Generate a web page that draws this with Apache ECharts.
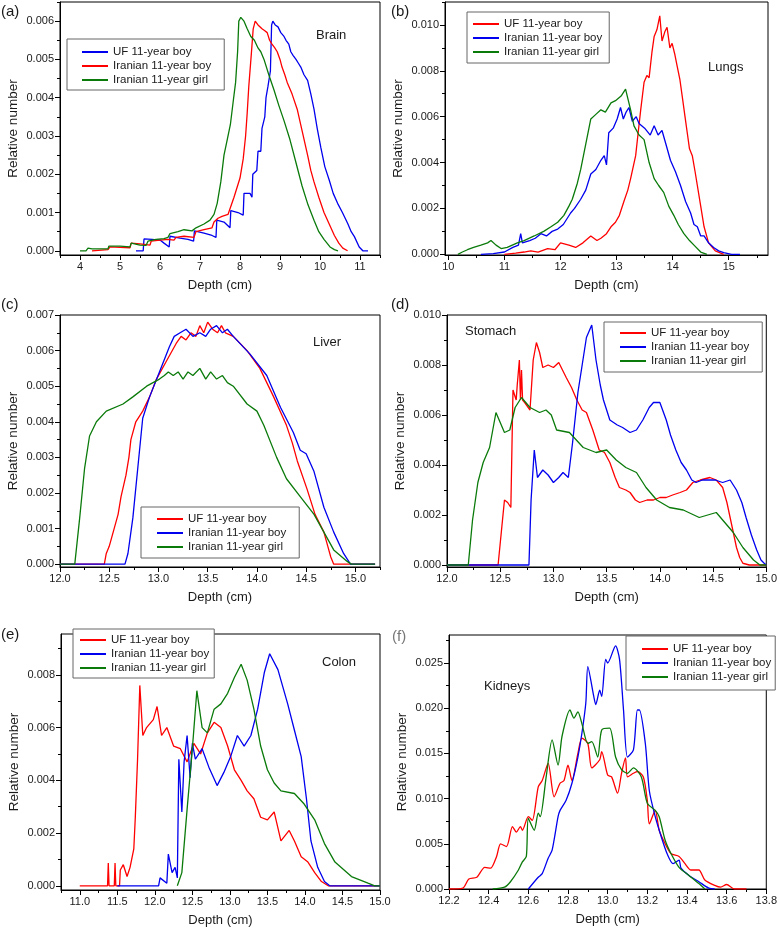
<!DOCTYPE html>
<html><head><meta charset="utf-8">
<script src="https://cdn.jsdelivr.net/npm/echarts/dist/echarts.min.js"></script>
<style>html,body{margin:0;padding:0;background:#fff}#c{width:780px;height:929px}</style>
</head><body><div id="c"></div><script>
const FONT = '"Liberation Sans", Arial, Helvetica, sans-serif';
const NAMES = ['UF 11-year boy', 'Iranian 11-year boy', 'Iranian 11-year girl'];

// ---------- (a) Brain ----------
const brainXTicks = [4, 5, 6, 7, 8, 9, 10, 11];
const brainYTicks = [0, 0.001, 0.002, 0.003, 0.004, 0.005, 0.006];
const brainUF = [[5.4,0],[5.58,0],[5.6,0.00031],[5.8,0.0003],[6.0,0.00028],[6.1,0.0002],[6.23,0.0001],[6.25,0.00038],[6.5,0.00033],[6.7,0.0003],[6.84,0.00025],[6.86,0.00052],[7.1,0.00046],[7.3,0.0004],[7.4,0.00035],[7.42,0.0008],[7.6,0.00075],[7.75,0.0006],[7.77,0.00105],[7.95,0.001],[8.08,0.00093],[8.1,0.0015],[8.25,0.0015],[8.3,0.0014],[8.32,0.002],[8.42,0.0021],[8.45,0.0026],[8.52,0.0026],[8.55,0.0032],[8.62,0.0035],[8.65,0.004],[8.7,0.0043],[8.76,0.0047],[8.79,0.0059],[8.82,0.006],[8.88,0.0059],[8.95,0.00585],[9.02,0.0057],[9.1,0.0056],[9.15,0.0055],[9.22,0.0054],[9.27,0.0052],[9.33,0.0051],[9.4,0.005],[9.46,0.0049],[9.52,0.0048],[9.6,0.0046],[9.69,0.00445],[9.77,0.0041],[9.85,0.0037],[9.93,0.0032],[10.02,0.0027],[10.12,0.0022],[10.23,0.00185],[10.33,0.0015],[10.44,0.00124],[10.56,0.001],[10.69,0.00072],[10.78,0.0005],[10.86,0.00037],[10.98,0.0001],[11.07,0],[11.2,0]];
const brainIrBoy = [[4.3,0],[4.35,0.00003],[4.7,0.00003],[4.75,0.0001],[5.0,0.00009],[5.25,0.00008],[5.28,0.0002],[5.5,0.00018],[5.75,0.00015],[5.78,0.00025],[6.0,0.00028],[6.2,0.0003],[6.35,0.00028],[6.4,0.00035],[6.6,0.00038],[6.85,0.00035],[6.9,0.0005],[7.1,0.00055],[7.3,0.0006],[7.35,0.00075],[7.45,0.00085],[7.55,0.0009],[7.7,0.00095],[7.85,0.0014],[8.0,0.0019],[8.08,0.0024],[8.14,0.003],[8.18,0.0036],[8.22,0.0043],[8.28,0.0051],[8.33,0.0058],[8.38,0.006],[8.45,0.0059],[8.5,0.00585],[8.55,0.0058],[8.62,0.00575],[8.68,0.0057],[8.74,0.0055],[8.8,0.0054],[8.87,0.0053],[8.93,0.0052],[9.0,0.005],[9.05,0.0048],[9.12,0.0046],[9.18,0.0044],[9.3,0.0041],[9.43,0.0037],[9.56,0.0031],[9.69,0.0025],[9.77,0.0021],[9.85,0.0018],[9.97,0.0014],[10.1,0.001],[10.23,0.0007],[10.36,0.0004],[10.47,0.0002],[10.57,0.00007],[10.69,0]];
const brainIrGirl = [[4.0,0],[4.15,0],[4.2,0.00007],[4.3,0.00005],[4.7,0.00005],[4.72,0.00012],[5.0,0.00012],[5.25,0.0001],[5.28,0.0002],[5.5,0.00015],[5.65,0.00014],[5.7,0.00025],[5.9,0.0003],[6.1,0.00032],[6.2,0.00035],[6.25,0.00045],[6.45,0.0005],[6.6,0.00055],[6.8,0.00052],[6.9,0.0006],[7.1,0.0007],[7.25,0.0008],[7.35,0.00095],[7.43,0.00124],[7.52,0.0018],[7.6,0.0025],[7.68,0.0029],[7.76,0.0033],[7.83,0.0039],[7.89,0.0044],[7.94,0.0052],[7.97,0.006],[8.02,0.0061],[8.1,0.006],[8.18,0.0058],[8.27,0.0056],[8.36,0.0055],[8.45,0.0053],[8.52,0.0052],[8.6,0.005],[8.72,0.0046],[8.85,0.0042],[8.97,0.0038],[9.1,0.0034],[9.25,0.0029],[9.4,0.0023],[9.55,0.0017],[9.7,0.0012],[9.85,0.0008],[9.97,0.0005],[10.1,0.0003],[10.25,0.0001],[10.36,0.00003],[10.45,0]];

// ---------- (b) Lungs ----------
const lungsXTicks = [10, 11, 12, 13, 14, 15];
const lungsYTicks = [0, 0.002, 0.004, 0.006, 0.008, 0.010];
const lungsUF = [[11.0,0],[11.2,0.00005],[11.35,0.0001],[11.47,0.00015],[11.6,0.0001],[11.77,0.00025],[11.9,0.0002],[12.0,0.0005],[12.15,0.0004],[12.27,0.0003],[12.4,0.0005],[12.54,0.0008],[12.65,0.0006],[12.72,0.0007],[12.82,0.0009],[12.9,0.0012],[12.98,0.0014],[13.05,0.0017],[13.13,0.0023],[13.2,0.0028],[13.25,0.0033],[13.34,0.0043],[13.38,0.0052],[13.43,0.0063],[13.49,0.0075],[13.54,0.0078],[13.58,0.0077],[13.63,0.0088],[13.67,0.0095],[13.72,0.0098],[13.77,0.0104],[13.81,0.0093],[13.86,0.0097],[13.9,0.0099],[13.95,0.009],[13.99,0.0092],[14.04,0.0087],[14.08,0.0082],[14.13,0.0076],[14.17,0.0069],[14.22,0.006],[14.26,0.0053],[14.3,0.0046],[14.35,0.0043],[14.4,0.0036],[14.44,0.003],[14.5,0.0021],[14.56,0.0012],[14.64,0.0005],[14.76,0.00015],[14.91,0]];
const lungsIrBoy = [[10.58,0],[10.8,0.00003],[11.0,0.0001],[11.15,0.0003],[11.25,0.0004],[11.29,0.0009],[11.32,0.0005],[11.45,0.0006],[11.55,0.0007],[11.65,0.0009],[11.75,0.0008],[11.85,0.001],[11.95,0.0011],[12.05,0.0013],[12.18,0.0018],[12.25,0.002],[12.36,0.0024],[12.45,0.0028],[12.54,0.0035],[12.63,0.0037],[12.72,0.0041],[12.78,0.0043],[12.82,0.0039],[12.86,0.0053],[12.94,0.0055],[13.01,0.0059],[13.07,0.0064],[13.12,0.0059],[13.17,0.0062],[13.22,0.0064],[13.28,0.0058],[13.35,0.006],[13.4,0.0057],[13.5,0.0055],[13.6,0.0052],[13.67,0.0056],[13.74,0.0052],[13.81,0.0054],[13.88,0.0048],[13.96,0.0041],[14.05,0.0036],[14.14,0.003],[14.23,0.0023],[14.32,0.0018],[14.38,0.0013],[14.44,0.0012],[14.5,0.0008],[14.56,0.0008],[14.64,0.0005],[14.73,0.0003],[14.82,0.00015],[14.91,0.00007],[15.05,0],[15.2,0]];
const lungsIrGirl = [[10.17,0],[10.25,0.0001],[10.34,0.0002],[10.45,0.0003],[10.58,0.0004],[10.7,0.0005],[10.76,0.0006],[10.85,0.0004],[10.94,0.00025],[11.05,0.0003],[11.23,0.0005],[11.35,0.0006],[11.53,0.0008],[11.7,0.001],[11.83,0.0012],[11.95,0.0014],[12.06,0.0017],[12.15,0.0021],[12.21,0.0024],[12.3,0.0031],[12.36,0.0037],[12.45,0.0048],[12.54,0.0059],[12.63,0.0061],[12.72,0.0063],[12.8,0.0062],[12.9,0.0066],[12.98,0.0067],[13.08,0.0069],[13.16,0.0072],[13.2,0.0068],[13.25,0.0063],[13.31,0.0056],[13.4,0.0052],[13.49,0.005],[13.58,0.004],[13.67,0.0033],[13.75,0.003],[13.84,0.0027],[13.93,0.0021],[14.02,0.0017],[14.1,0.0013],[14.2,0.0009],[14.3,0.0006],[14.38,0.0004],[14.5,0.0001],[14.61,0]];

// ---------- (c) Liver ----------
const liverXTicks = [12.0, 12.5, 13.0, 13.5, 14.0, 14.5, 15.0];
const liverYTicks = [0, 0.001, 0.002, 0.003, 0.004, 0.005, 0.006, 0.007];
const liverUF = [[12.0,0],[12.45,0],[12.47,0.0003],[12.5,0.0005],[12.55,0.001],[12.59,0.0014],[12.62,0.0019],[12.67,0.0025],[12.7,0.003],[12.72,0.0035],[12.77,0.004],[12.84,0.0043],[12.91,0.0047],[12.98,0.0052],[13.08,0.0057],[13.18,0.0062],[13.23,0.0064],[13.28,0.0063],[13.33,0.0065],[13.38,0.0064],[13.42,0.0067],[13.46,0.0065],[13.5,0.0068],[13.55,0.0066],[13.6,0.0065],[13.64,0.0067],[13.68,0.0065],[13.76,0.0064],[13.9,0.006],[14.03,0.0055],[14.17,0.0047],[14.3,0.0039],[14.36,0.0034],[14.41,0.0029],[14.51,0.0021],[14.59,0.0014],[14.68,0.0009],[14.72,0.0005],[14.75,0.0002],[14.78,0],[15.2,0]];
const liverIrBoy = [[12.0,0],[12.66,0],[12.69,0.0003],[12.74,0.0013],[12.79,0.0027],[12.84,0.0041],[12.91,0.0047],[13.01,0.0054],[13.11,0.0061],[13.16,0.0064],[13.22,0.0065],[13.28,0.0066],[13.35,0.0064],[13.42,0.0065],[13.48,0.0064],[13.53,0.0066],[13.59,0.0067],[13.65,0.0065],[13.7,0.0066],[13.76,0.0064],[13.93,0.0059],[14.1,0.0053],[14.24,0.0044],[14.37,0.0037],[14.44,0.0032],[14.5,0.0031],[14.58,0.0026],[14.68,0.0016],[14.78,0.0009],[14.88,0.0003],[14.95,0],[15.2,0]];
const liverIrGirl = [[12.0,0],[12.15,0],[12.2,0.0013],[12.25,0.0027],[12.3,0.0036],[12.37,0.004],[12.47,0.0043],[12.64,0.0045],[12.74,0.0047],[12.88,0.005],[13.01,0.0052],[13.06,0.0053],[13.1,0.0054],[13.15,0.0053],[13.2,0.0054],[13.25,0.0052],[13.3,0.0054],[13.35,0.0053],[13.42,0.0055],[13.48,0.0052],[13.53,0.0054],[13.59,0.0052],[13.65,0.0053],[13.7,0.0051],[13.76,0.005],[13.9,0.0045],[14.0,0.0043],[14.07,0.0039],[14.2,0.003],[14.3,0.0024],[14.44,0.0019],[14.58,0.0014],[14.68,0.0009],[14.78,0.0004],[14.92,0.00007],[14.96,0],[15.2,0]];

// ---------- (d) Stomach ----------
const stomachXTicks = [12.0, 12.5, 13.0, 13.5, 14.0, 14.5, 15.0];
const stomachYTicks = [0, 0.002, 0.004, 0.006, 0.008, 0.010];
const stomachUF = [[12.0,0],[12.48,0],[12.51,0.0013],[12.54,0.0026],[12.57,0.0025],[12.6,0.0023],[12.62,0.007],[12.65,0.0066],[12.66,0.0072],[12.68,0.0082],[12.69,0.0066],[12.7,0.0078],[12.71,0.0066],[12.73,0.0065],[12.78,0.0062],[12.79,0.0062],[12.81,0.0082],[12.84,0.0089],[12.87,0.0085],[12.9,0.0079],[12.95,0.008],[13.0,0.0079],[13.05,0.0081],[13.12,0.0075],[13.17,0.0071],[13.22,0.0066],[13.27,0.0062],[13.31,0.0061],[13.37,0.0054],[13.43,0.0046],[13.48,0.0045],[13.53,0.0041],[13.58,0.0035],[13.62,0.0031],[13.68,0.003],[13.72,0.0029],[13.77,0.0026],[13.81,0.0025],[13.88,0.0026],[13.94,0.0026],[14.0,0.0027],[14.06,0.0027],[14.12,0.0028],[14.19,0.0029],[14.25,0.003],[14.31,0.0033],[14.38,0.0034],[14.47,0.0035],[14.53,0.0034],[14.59,0.0031],[14.63,0.0025],[14.66,0.0019],[14.69,0.0013],[14.72,0.0007],[14.75,0.0003],[14.78,0.00007],[14.84,0],[15.0,0]];
const stomachIrBoy = [[12.0,0],[12.77,0],[12.79,0.0026],[12.82,0.0046],[12.85,0.0035],[12.9,0.0038],[12.95,0.0036],[13.0,0.0033],[13.05,0.0035],[13.09,0.0037],[13.14,0.0035],[13.18,0.0049],[13.23,0.0069],[13.27,0.008],[13.31,0.0091],[13.36,0.0096],[13.4,0.0082],[13.44,0.0072],[13.47,0.0066],[13.53,0.0058],[13.6,0.0056],[13.65,0.0055],[13.72,0.0053],[13.78,0.0054],[13.84,0.0058],[13.9,0.0063],[13.94,0.0065],[14.0,0.0065],[14.06,0.0058],[14.1,0.0052],[14.15,0.0046],[14.2,0.0041],[14.25,0.0038],[14.3,0.0034],[14.34,0.0033],[14.4,0.0034],[14.44,0.0034],[14.52,0.0034],[14.59,0.0033],[14.66,0.0034],[14.72,0.003],[14.77,0.0025],[14.81,0.0019],[14.86,0.0012],[14.91,0.0006],[14.95,0.0002],[14.98,0.00007],[15.0,0]];
const stomachIrGirl = [[12.0,0],[12.2,0],[12.24,0.0018],[12.29,0.0033],[12.34,0.0041],[12.4,0.0047],[12.46,0.0061],[12.49,0.0058],[12.54,0.0053],[12.59,0.0054],[12.64,0.0063],[12.7,0.0067],[12.78,0.0063],[12.87,0.0061],[12.93,0.0062],[12.98,0.006],[13.03,0.0054],[13.15,0.0053],[13.28,0.0047],[13.4,0.0045],[13.5,0.0046],[13.59,0.0042],[13.68,0.0039],[13.78,0.0037],[13.87,0.0031],[13.97,0.0026],[14.09,0.0023],[14.22,0.0022],[14.37,0.0019],[14.53,0.0021],[14.59,0.0018],[14.69,0.0013],[14.78,0.0007],[14.88,0.0002],[14.94,0],[15.0,0]];

// ---------- (e) Colon ----------
const colonXTicks = [11.0, 11.5, 12.0, 12.5, 13.0, 13.5, 14.0, 14.5, 15.0];
const colonYTicks = [0, 0.002, 0.004, 0.006, 0.008];
const colonUF = [[11.0,0],[11.37,0],[11.38,0.00086],[11.39,0],[11.46,0],[11.47,0.00086],[11.48,0],[11.53,0],[11.54,0.0006],[11.58,0.0008],[11.63,0.00035],[11.67,0.0007],[11.72,0.0014],[11.74,0.0026],[11.77,0.0048],[11.8,0.0076],[11.84,0.0057],[11.89,0.006],[11.98,0.0063],[12.03,0.0068],[12.09,0.0057],[12.16,0.006],[12.25,0.0053],[12.34,0.0052],[12.43,0.0047],[12.52,0.0054],[12.61,0.005],[12.7,0.0058],[12.79,0.0062],[12.88,0.006],[12.97,0.0053],[13.06,0.0044],[13.15,0.004],[13.23,0.0036],[13.32,0.0033],[13.41,0.0026],[13.5,0.0025],[13.59,0.0028],[13.68,0.0017],[13.79,0.0021],[13.86,0.0017],[13.95,0.0011],[14.04,0.0009],[14.13,0.0005],[14.22,0.00016],[14.31,0],[15.0,0]];
const colonIrBoy = [[11.5,0],[12.05,0],[12.07,0.0003],[12.16,0.0001],[12.18,0.0012],[12.23,0.0005],[12.27,0.0007],[12.3,0.0003],[12.32,0.0048],[12.36,0.0028],[12.39,0.0047],[12.43,0.0057],[12.47,0.0041],[12.5,0.0054],[12.54,0.0048],[12.63,0.0052],[12.72,0.0045],[12.83,0.0038],[12.92,0.0043],[13.01,0.0049],[13.1,0.0057],[13.19,0.0053],[13.28,0.0057],[13.37,0.0067],[13.46,0.0081],[13.53,0.0088],[13.64,0.0082],[13.77,0.0069],[13.86,0.0059],[13.95,0.0049],[14.02,0.0033],[14.08,0.0017],[14.17,0.0007],[14.26,0.00016],[14.33,0],[15.0,0]];
const colonIrGirl = [[12.3,0],[12.36,0.0005],[12.43,0.0029],[12.5,0.0052],[12.56,0.0074],[12.63,0.006],[12.7,0.0058],[12.79,0.0067],[12.88,0.0069],[12.97,0.0073],[13.06,0.0079],[13.15,0.0084],[13.23,0.0078],[13.32,0.0067],[13.41,0.0053],[13.5,0.0044],[13.59,0.0039],[13.68,0.0036],[13.86,0.0035],[13.99,0.0031],[14.13,0.0025],[14.26,0.0016],[14.4,0.0009],[14.62,0.00035],[14.84,0.0001],[14.93,0],[15.0,0]];

// ---------- (f) Kidneys ----------
const kidneyXTicks = [12.2, 12.4, 12.6, 12.8, 13.0, 13.2, 13.4, 13.6, 13.8];
const kidneyYTicks = [0, 0.005, 0.010, 0.015, 0.020, 0.025];
const kidneyUF = [[12.2,0],[12.27,0.0001],[12.3,0.0011],[12.34,0.0013],[12.38,0.0024],[12.41,0.0023],[12.44,0.0036],[12.46,0.005],[12.49,0.0047],[12.52,0.0069],[12.54,0.0063],[12.56,0.0069],[12.57,0.0065],[12.6,0.008],[12.62,0.0076],[12.65,0.0113],[12.67,0.012],[12.7,0.0139],[12.73,0.0102],[12.76,0.0117],[12.78,0.012],[12.8,0.0137],[12.82,0.012],[12.85,0.015],[12.87,0.0167],[12.9,0.0161],[12.92,0.0134],[12.96,0.0143],[12.97,0.0152],[13.0,0.0126],[13.02,0.0124],[13.05,0.0106],[13.07,0.0128],[13.09,0.0145],[13.1,0.0124],[13.13,0.0128],[13.15,0.013],[13.18,0.0124],[13.2,0.0098],[13.21,0.0072],[13.24,0.0087],[13.26,0.0065],[13.29,0.005],[13.32,0.0039],[13.36,0.0036],[13.39,0.0028],[13.42,0.0021],[13.46,0.0021],[13.49,0.001],[13.54,0.0004],[13.57,0.0002],[13.6,0.0005],[13.64,0],[13.7,0]];
const kidneyIrBoy = [[12.6,0],[12.65,0.0013],[12.67,0.0017],[12.7,0.0034],[12.72,0.0043],[12.75,0.008],[12.76,0.0087],[12.79,0.0098],[12.82,0.0117],[12.85,0.0146],[12.87,0.0172],[12.89,0.0206],[12.9,0.0246],[12.93,0.0213],[12.94,0.0204],[12.96,0.022],[12.97,0.0213],[12.99,0.0254],[13.0,0.025],[13.04,0.0269],[13.06,0.0254],[13.08,0.0198],[13.1,0.0146],[13.13,0.0154],[13.15,0.0198],[13.16,0.0198],[13.19,0.0161],[13.21,0.0109],[13.24,0.008],[13.27,0.0058],[13.3,0.0039],[13.33,0.0028],[13.36,0.0032],[13.37,0.0023],[13.41,0.0015],[13.46,0.0008],[13.51,0.0001],[13.54,0]];
const kidneyIrGirl = [[12.42,0],[12.48,0.0002],[12.51,0.0008],[12.55,0.0021],[12.57,0.003],[12.59,0.0036],[12.6,0.0078],[12.63,0.0065],[12.65,0.0084],[12.66,0.008],[12.69,0.0124],[12.72,0.0165],[12.75,0.0137],[12.77,0.0169],[12.81,0.0198],[12.83,0.0189],[12.85,0.0196],[12.87,0.0183],[12.9,0.0161],[12.92,0.0163],[12.95,0.0146],[12.97,0.0176],[13.01,0.0178],[13.04,0.0146],[13.07,0.0132],[13.1,0.0128],[13.13,0.0134],[13.17,0.0124],[13.2,0.0095],[13.24,0.0087],[13.26,0.008],[13.29,0.0054],[13.32,0.0039],[13.36,0.0024],[13.41,0.0015],[13.46,0.0006],[13.49,0]];

// ---------- layout / styling ----------
const BLUE = '#0000ee', RED = '#ff0000', GREEN = '#0a7a0a';
const panels = [
  { key:'a', grid:{left:60, top:2, width:320, height:253}, xr:[3.5, 11.5], yr:[-0.00011, 0.0065], xt:brainXTicks, yt:brainYTicks, xd:0, yd:3,
    series:[[brainUF, BLUE, 0], [brainIrBoy, RED, 1], [brainIrGirl, GREEN, 2]],
    legend:{left:67, top:39, padding:[6,13,3,15]}, label:['(a)',1,12], organ:['Brain',316,36] },
  { key:'b', grid:{left:445, top:2, width:323, height:253}, xr:[9.94, 15.7], yr:[-0.00003, 0.011], xt:lungsXTicks, yt:lungsYTicks, xd:0, yd:3,
    series:[[lungsUF, RED, 0], [lungsIrBoy, BLUE, 1], [lungsIrGirl, GREEN, 2]],
    legend:{left:467, top:12, padding:[5,7,4,6]}, label:['(b)',391,12], organ:['Lungs',708,68] },
  { key:'c', grid:{left:60, top:315, width:320, height:252}, xr:[12.0, 15.25], yr:[-0.00008, 0.007], xt:liverXTicks, yt:liverYTicks, xd:1, yd:3,
    series:[[liverUF, RED, 0], [liverIrBoy, BLUE, 1], [liverIrGirl, GREEN, 2]],
    legend:{left:141, top:507, padding:[5,13,4,16]}, label:['(c)',1,305], organ:['Liver',313,343] },
  { key:'d', grid:{left:447, top:315, width:321, height:252}, xr:[12.0, 15.0], yr:[-0.00008, 0.010], xt:stomachXTicks, yt:stomachYTicks, xd:1, yd:3,
    series:[[stomachUF, RED, 0], [stomachIrBoy, BLUE, 1], [stomachIrGirl, GREEN, 2]],
    legend:{left:604, top:322, padding:[4,13,4,16]}, label:['(d)',391,305], organ:['Stomach',465,332] },
  { key:'e', grid:{left:61, top:634, width:319, height:256}, xr:[10.75, 15.0], yr:[-0.00016, 0.00955], xt:colonXTicks, yt:colonYTicks, xd:1, yd:3,
    series:[[colonUF, RED, 0], [colonIrBoy, BLUE, 1], [colonIrGirl, GREEN, 2]],
    legend:{left:73, top:629, padding:[4,5,3,7]}, label:['(e)',1,635], organ:['Colon',322,663] },
  { key:'f', grid:{left:449, top:635, width:320, height:254}, xr:[12.2, 13.8], yr:[0, 0.0281], xt:kidneyXTicks, yt:kidneyYTicks, xd:1, yd:3,
    series:[[kidneyUF, RED, 0], [kidneyIrBoy, BLUE, 1], [kidneyIrGirl, GREEN, 2]],
    legend:{left:626, top:636, padding:[6,4,6,16]}, label:['(f)',392,637, '#777'], organ:['Kidneys',484,687], smooth:true }
];

function minors(ticks, lo, hi) {
  const step = ticks[1] - ticks[0];
  const out = [];
  for (let t = ticks[0] - step / 2; t <= hi + 1e-9; t += step) {
    if (t >= lo - 1e-9) out.push(+t.toFixed(6));
  }
  return out;
}

const option = { animation:false, backgroundColor:'#fff', grid:[], xAxis:[], yAxis:[], series:[], legend:[], graphic:[] };
const tickLine = { color:'#000', width:1 };
const labelStyle = { color:'#1a1a1a', fontSize:11, fontFamily:FONT };

panels.forEach((p, gi) => {
  option.grid.push(Object.assign({ show:true, borderColor:'#000', borderWidth:1, backgroundColor:'transparent', containLabel:false }, p.grid));
  option.xAxis.push({
    type:'value', gridIndex:gi, position:'bottom', min:p.xr[0], max:p.xr[1],
    axisLine:{ show:true, onZero:false, lineStyle:tickLine },
    axisTick:{ show:true, inside:false, length:5, customValues:p.xt, lineStyle:tickLine },
    axisLabel:{ show:true, customValues:p.xt, margin:6, formatter:(v) => (+v).toFixed(p.xd), ...labelStyle },
    splitLine:{ show:false },
    name:'Depth (cm)', nameLocation:'middle', nameGap:24,
    nameTextStyle:{ fontSize:13, color:'#1a1a1a', fontFamily:FONT }
  });
  option.xAxis.push({
    type:'value', gridIndex:gi, position:'bottom', min:p.xr[0], max:p.xr[1],
    axisLine:{ show:false, onZero:false }, axisLabel:{ show:false }, splitLine:{ show:false },
    axisTick:{ show:true, inside:false, length:3, customValues:minors(p.xt, p.xr[0], p.xr[1]), lineStyle:tickLine }
  });
  option.yAxis.push({
    type:'value', gridIndex:gi, position:'left', min:p.yr[0], max:p.yr[1],
    axisLine:{ show:true, onZero:false, lineStyle:tickLine },
    axisTick:{ show:true, inside:false, length:5, customValues:p.yt, lineStyle:tickLine },
    axisLabel:{ show:true, customValues:p.yt, margin:6, formatter:(v) => (+v).toFixed(p.yd), ...labelStyle },
    splitLine:{ show:false },
    name:'Relative number', nameLocation:'middle', nameGap:40, nameRotate:90,
    nameTextStyle:{ fontSize:13.5, color:'#1a1a1a', fontFamily:FONT }
  });
  option.yAxis.push({
    type:'value', gridIndex:gi, position:'left', min:p.yr[0], max:p.yr[1],
    axisLine:{ show:false, onZero:false }, axisLabel:{ show:false }, splitLine:{ show:false },
    axisTick:{ show:true, inside:false, length:3, customValues:minors(p.yt, p.yr[0], p.yr[1]), lineStyle:tickLine }
  });
  const names = [];
  p.series.forEach(([data, color, ni]) => {
    const nm = p.key + '|' + NAMES[ni];
    names.push(nm);
    option.series.push({
      type:'line', name:nm, xAxisIndex:2 * gi, yAxisIndex:2 * gi, data:data,
      showSymbol:false, symbol:'none', smooth:p.smooth ? 0.25 : false, clip:true,
      lineStyle:{ color:color, width:1.3 }, itemStyle:{ color:color }, silent:true
    });
  });
  option.legend.push(Object.assign({
    data:names, orient:'vertical', itemGap:0, itemWidth:26, itemHeight:2, icon:'rect',
    formatter:(n) => n.split('|')[1], selectedMode:false,
    borderColor:'#666', borderWidth:1, backgroundColor:'#fff',
    textStyle:{ fontSize:11.5, color:'#1a1a1a', fontFamily:FONT, lineHeight:14 }
  }, p.legend));
  option.graphic.push({ type:'text', left:p.label[1], top:p.label[2] - 8,
    style:{ text:p.label[0], fontSize:15, fill:p.label[3] || '#1a1a1a', fontFamily:FONT } });
  option.graphic.push({ type:'text', left:p.organ[1], top:p.organ[2] - 7,
    style:{ text:p.organ[0], fontSize:13, fill:'#1a1a1a', fontFamily:FONT } });
});

const chart = echarts.init(document.getElementById('c'), null, { renderer:'canvas' });
chart.setOption(option);
</script></body></html>
